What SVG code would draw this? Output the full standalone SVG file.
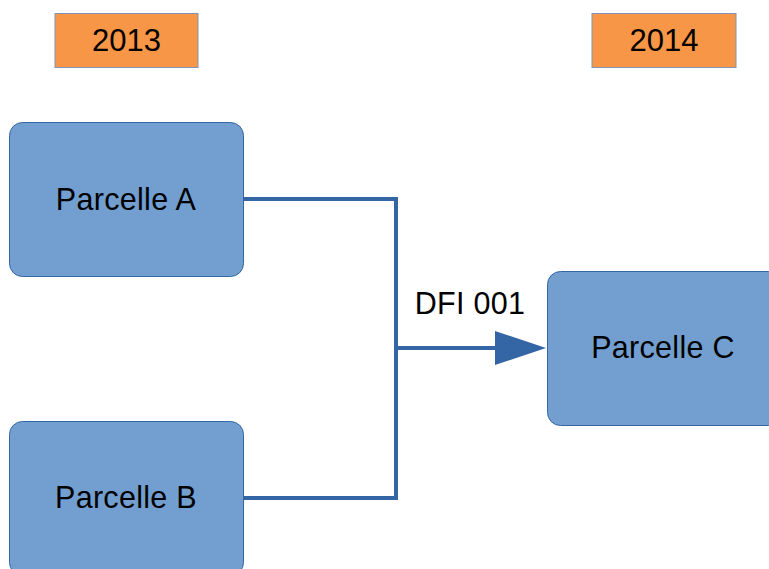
<svg xmlns="http://www.w3.org/2000/svg" width="769" height="569" viewBox="0 0 769 569">
<style>
.yr{fill:#f79646;stroke:#7f94b8;stroke-width:1}
.pc{fill:#729fcf;stroke:#3465a4;stroke-width:1}
.t{font-family:"Liberation Sans",Arial,sans-serif;font-size:30.5px;letter-spacing:0.3px;fill:#000;text-anchor:middle}
.ty{font-family:"Liberation Sans",Arial,sans-serif;font-size:31px;fill:#000;text-anchor:middle}
.cn{fill:none;stroke:#3465a4;stroke-width:4;stroke-linejoin:miter}
</style>
<rect width="769" height="569" fill="#fff"/>
<g id="y2013"><rect class="yr" x="55" y="13.5" width="143" height="54"/><text class="ty" x="126.5" y="51">2013</text></g>
<g id="y2014"><rect class="yr" x="592" y="13.5" width="144" height="54"/><text class="ty" x="664" y="51">2014</text></g>
<g id="pa"><rect class="pc" x="9.5" y="122.5" width="234" height="154" rx="13"/><text class="t" x="126" y="210">Parcelle A</text></g>
<g id="pb"><rect class="pc" x="9.5" y="421.5" width="234" height="154" rx="13"/><text class="t" x="126" y="508">Parcelle B</text></g>
<g id="pcc"><rect class="pc" x="547.5" y="271.5" width="234" height="154" rx="13"/><text class="t" x="663" y="358">Parcelle C</text></g>
<g id="connectors">
<path class="cn" d="M244 199 H396 V498 H244"/>
<path class="cn" d="M396 348 H500"/>
<polygon points="495,331 546,348 495,365" fill="#3465a4"/>
<text class="t" x="470" y="314">DFI 001</text>
</g>
</svg>
